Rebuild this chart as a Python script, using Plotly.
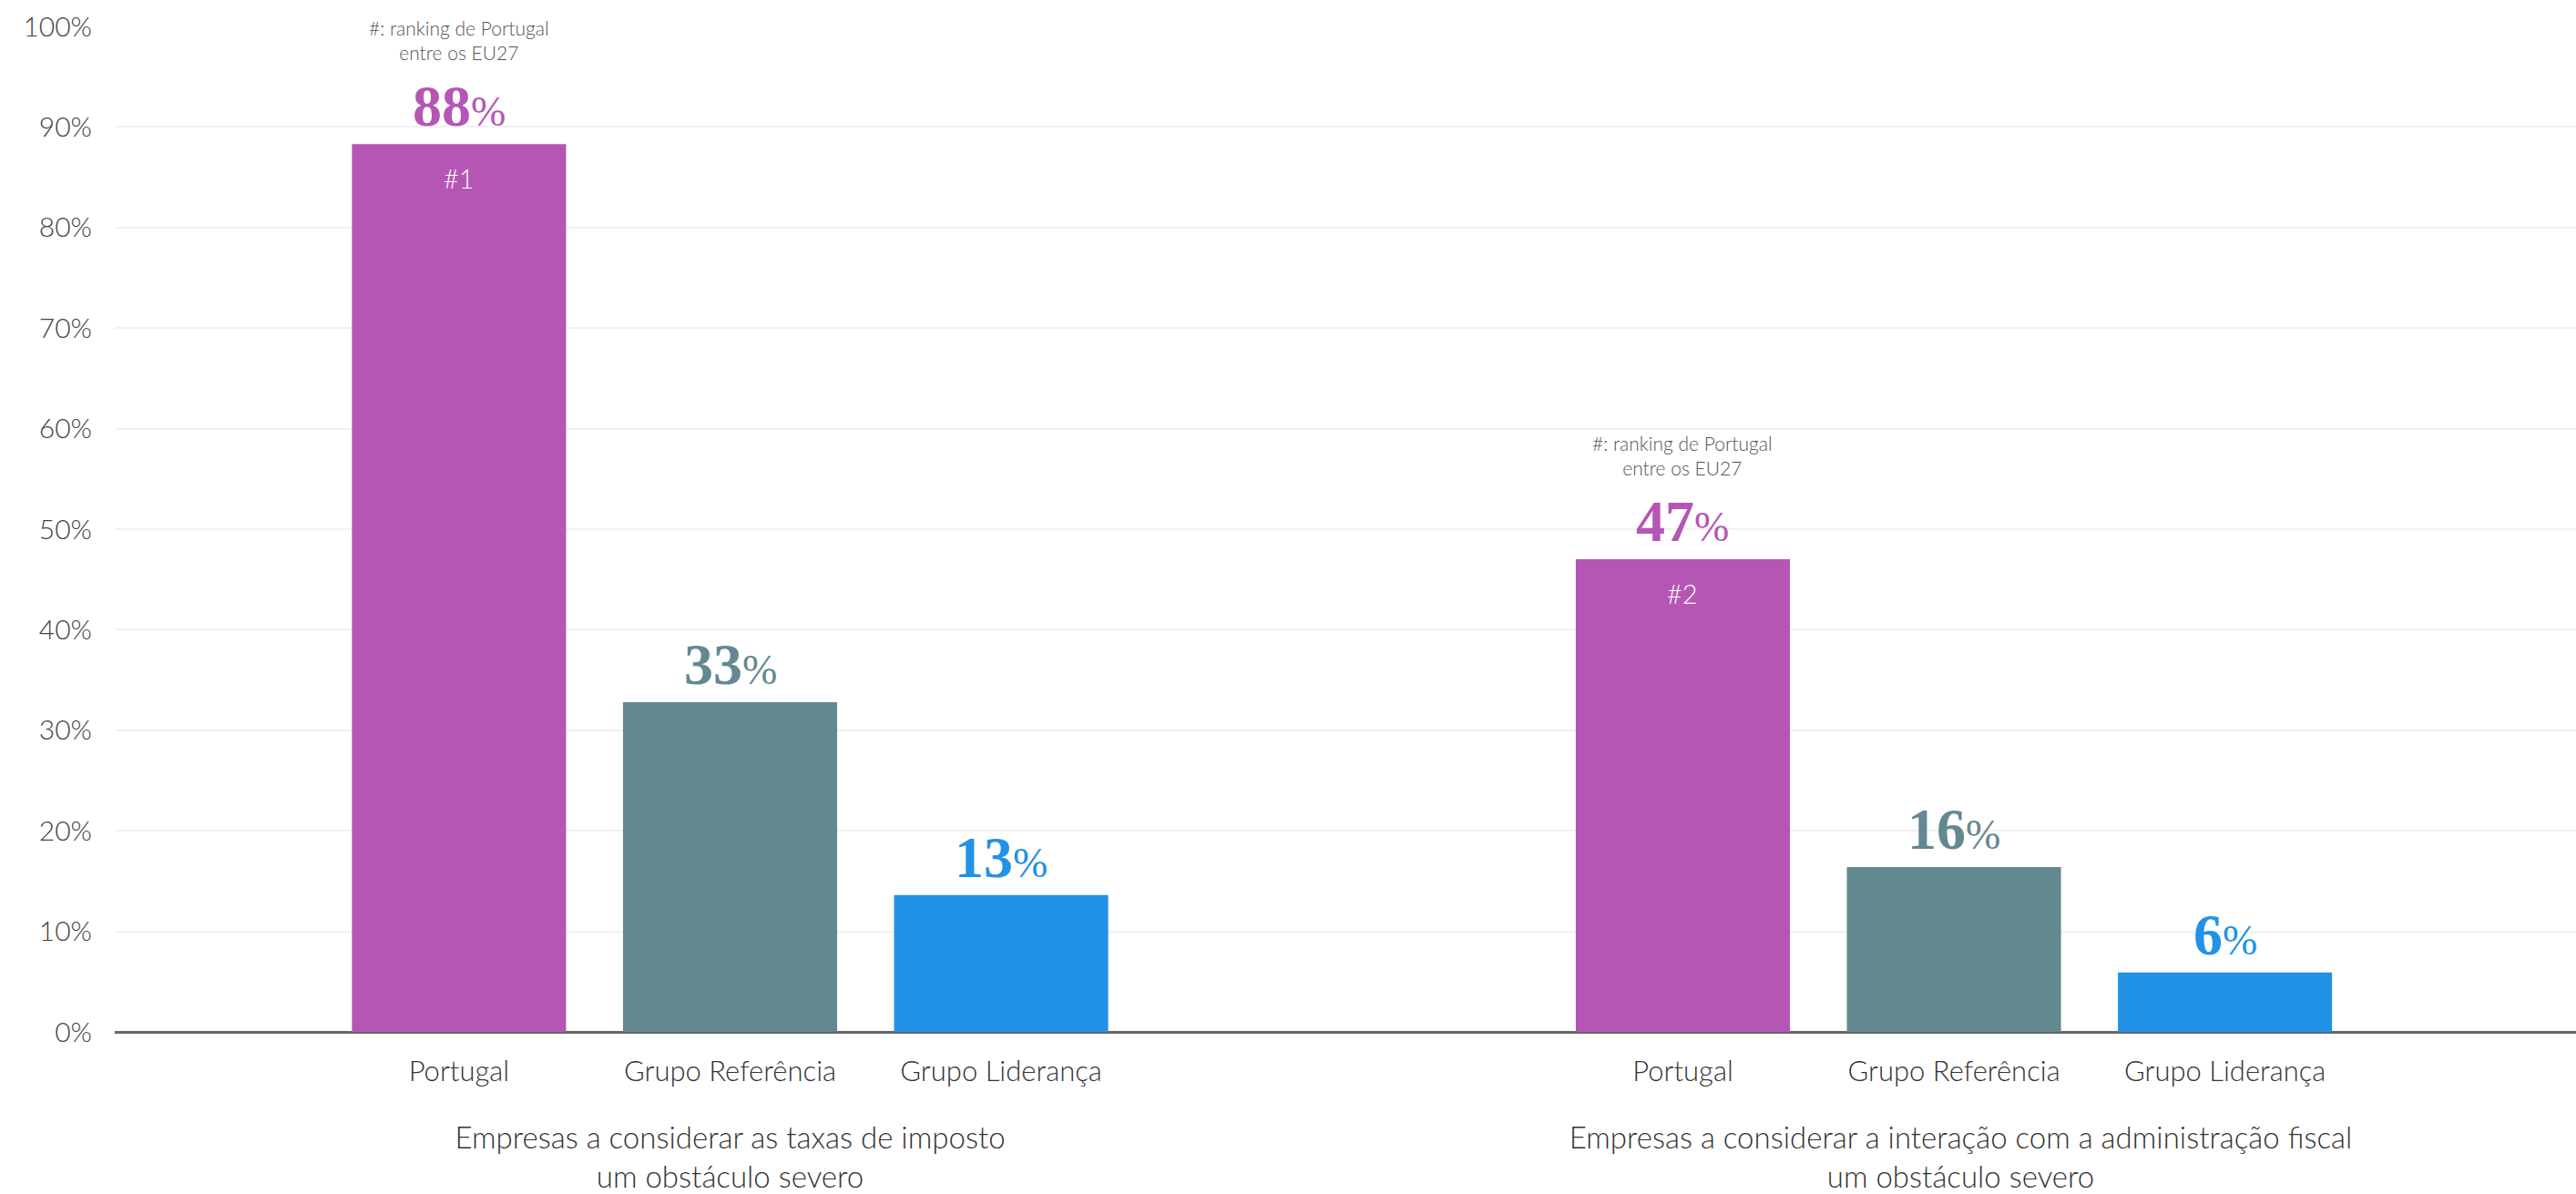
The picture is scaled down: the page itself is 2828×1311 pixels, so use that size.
import plotly.graph_objects as go
from plotly.subplots import make_subplots

# data
categories = ["Portugal", "Grupo Referência", "Grupo Liderança"]
group_titles = [
    "Empresas a considerar as taxas de imposto<br>um obstáculo severo",
    "Empresas a considerar a interação com a administração fiscal<br>um obstáculo severo",
]
taxas_values = [0.883, 0.328, 0.136]
interacao_values = [0.470, 0.164, 0.059]
taxas_labels = ["88", "33", "13"]
interacao_labels = ["47", "16", "6"]
portugal_rank = ["#1", "#2"]
rank_note = "#: ranking de Portugal<br>entre os EU27"
y_ticks = [0, 0.1, 0.2, 0.3, 0.4, 0.5, 0.6, 0.7, 0.8, 0.9, 1.0]
y_ticktext = ["0%", "10%", "20%", "30%", "40%", "50%", "60%", "70%", "80%", "90%", "100%"]

colors = ["#b556b4", "#638890", "#2192e5"]
sans = "Lato, 'Source Sans Pro', sans-serif"
serif = "'Liberation Serif', 'Times New Roman', serif"

fig = make_subplots(rows=1, cols=2, shared_yaxes=True, horizontal_spacing=0)

groups = [(taxas_values, taxas_labels), (interacao_values, interacao_labels)]
x_ranges = [[-1.27, 3.27], [-1.245, 3.295]]
for i, (vals, labels) in enumerate(groups):
    col = i + 1
    xr = "x" if col == 1 else "x2"
    fig.add_trace(go.Bar(x=categories, y=vals, marker=dict(color=colors, line=dict(width=0)),
                         width=0.79, showlegend=False, hoverinfo="skip"), row=1, col=col)
    # big value labels
    for cat, v, lab, c in zip(categories, vals, labels, colors):
        fig.add_annotation(x=cat, y=v, xref=xr, yref="y", yanchor="bottom", yshift=4,
                           text="<b>" + lab + "</b><span style='font-size:46px;font-weight:normal'>%</span>",
                           showarrow=False, font=dict(family=serif, size=64, color=c))
    # ranking inside Portugal bar + note above
    fig.add_annotation(x=categories[0], y=vals[0], xref=xr, yref="y", yanchor="top", yshift=-18,
                       text=portugal_rank[i], showarrow=False,
                       font=dict(family=sans, size=29, color="white"))
    fig.add_annotation(x=categories[0], y=vals[0], xref=xr, yref="y", yanchor="bottom", yshift=86,
                       text=rank_note, showarrow=False,
                       font=dict(family=sans, size=21, color="#555555"))
    fig.update_xaxes(row=1, col=col, range=x_ranges[i], showgrid=False, ticks="",
                     tickfont=dict(family=sans, size=31, color="#333333"),
                     ticklabelstandoff=22,
                     title=dict(text=group_titles[i], standoff=50,
                                font=dict(family=sans, size=33, color="#333333")))

fig.update_yaxes(range=[0, 1.0], tickvals=y_ticks, ticktext=y_ticktext,
                 showgrid=True, gridcolor="#f1f1f1", gridwidth=2,
                 zeroline=True, zerolinecolor="#666666", zerolinewidth=2.5,
                 tickfont=dict(family=sans, size=30, color="#444444"),
                 ticklabelstandoff=24)
fig.update_yaxes(showticklabels=False, row=1, col=2)

fig.update_layout(
    width=2828, height=1311,
    margin=dict(l=126, r=0, t=29, b=178),
    plot_bgcolor="white", paper_bgcolor="white",
    font=dict(family=sans, weight=300),
    bargap=0.21,
)

fig.write_html("out.html", config={"displayModeBar": False},
               post_script="document.body.style.margin='0';")
